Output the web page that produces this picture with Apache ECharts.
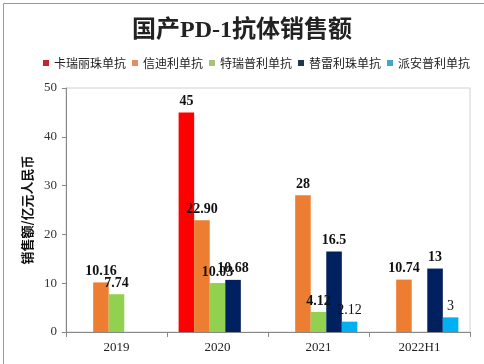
<!DOCTYPE html>
<html><head><meta charset="utf-8">
<script src="https://cdn.jsdelivr.net/npm/echarts@6/dist/echarts.min.js"></script>
<style>html,body{margin:0;padding:0;background:#fff}#c{width:484px;height:364px}</style>
</head><body><div id="c"></div>
<script>
const categories = ['2019', '2020', '2021', '2022H1'];
const seriesNames = ['卡瑞丽珠单抗', '信迪利单抗', '特瑞普利单抗', '替雷利珠单抗', '派安普利单抗'];
const camrelizumab = [null, 45, null, null];
const sintilimab = [10.16, 22.90, 28, 10.74];
const toripalimab = [7.74, 10.03, 4.12, null];
const tislelizumab = [null, 10.68, 16.5, 13];
const penpulimab = [null, null, 2.12, 3];
const labelTexts = [
  [null, '45', null, null],
  ['10.16', '22.90', '28', '10.74'],
  ['7.74', '10.03', '4.12', null],
  [null, '10.68', '16.5', '13'],
  [null, null, '2.12', '3']
];
const yTicks = [0, 10, 20, 30, 40, 50];

const colors = ['#FF0000', '#ED7D31', '#92D050', '#002060', '#00B0F0'];
const legendColors = ['#C0282D', '#E0905E', '#A5C47A', '#1F3550', '#42A8C8'];
const dataSets = [camrelizumab, sintilimab, toripalimab, tislelizumab, penpulimab];

const chart = echarts.init(document.getElementById('c'));
chart.setOption({
  animation: false,
  title: {
    text: '国产PD-1抗体销售额',
    left: 'center', top: 14,
    textStyle: { fontFamily: 'Liberation Serif, Noto Sans CJK SC', fontSize: 24, fontWeight: 'bold', color: '#222' }
  },
  legend: {
    top: 52, left: 38, width: 446, padding: 5,
    itemWidth: 6, itemHeight: 6, itemGap: 6,
    textStyle: { fontFamily: 'Noto Sans CJK SC', fontSize: 12, color: '#222' },
    data: seriesNames.map((n, i) => ({ name: n, icon: 'rect', itemStyle: { color: legendColors[i] } }))
  },
  grid: { left: 66, right: 14, top: 88, bottom: 32, show: true, borderColor: '#d0d0d0', borderWidth: 1 },
  xAxis: {
    type: 'category', data: categories,
    axisLine: { lineStyle: { color: '#888' } },
    axisTick: { show: true, length: 5, lineStyle: { color: '#888' } },
    axisLabel: { fontFamily: 'Liberation Serif', fontSize: 13, color: '#222', margin: 9 }
  },
  yAxis: {
    type: 'value', min: yTicks[0], max: yTicks[yTicks.length - 1], interval: 10,
    name: '销售额/亿元人民币', nameLocation: 'middle', nameGap: 29, nameRotate: 90,
    nameTextStyle: { fontFamily: 'Noto Sans CJK SC', fontSize: 13, fontWeight: 'bold', color: '#111' },
    axisLine: { show: true, lineStyle: { color: '#888' } },
    axisTick: { show: true, length: 4, lineStyle: { color: '#888' } },
    splitLine: { show: false },
    axisLabel: { fontFamily: 'Liberation Serif', fontSize: 13, color: '#333', margin: 9 }
  },
  series: seriesNames.map((n, i) => ({
    name: n, type: 'bar', data: dataSets[i],
    barGap: '0%', barCategoryGap: '23%',
    itemStyle: { color: colors[i] },
    label: {
      show: true, position: 'top', distance: 4,
      fontFamily: 'Liberation Serif', fontSize: 14,
      fontWeight: i === 4 ? 'normal' : 'bold', color: '#111',
      formatter: p => labelTexts[i][p.dataIndex] || ''
    }
  })),
  graphic: [{
    type: 'rect', left: 1, top: 1, shape: { width: 481, height: 361 },
    style: { fill: 'none', stroke: '#999', lineWidth: 1 }, silent: true
  }]
});
</script></body></html>
